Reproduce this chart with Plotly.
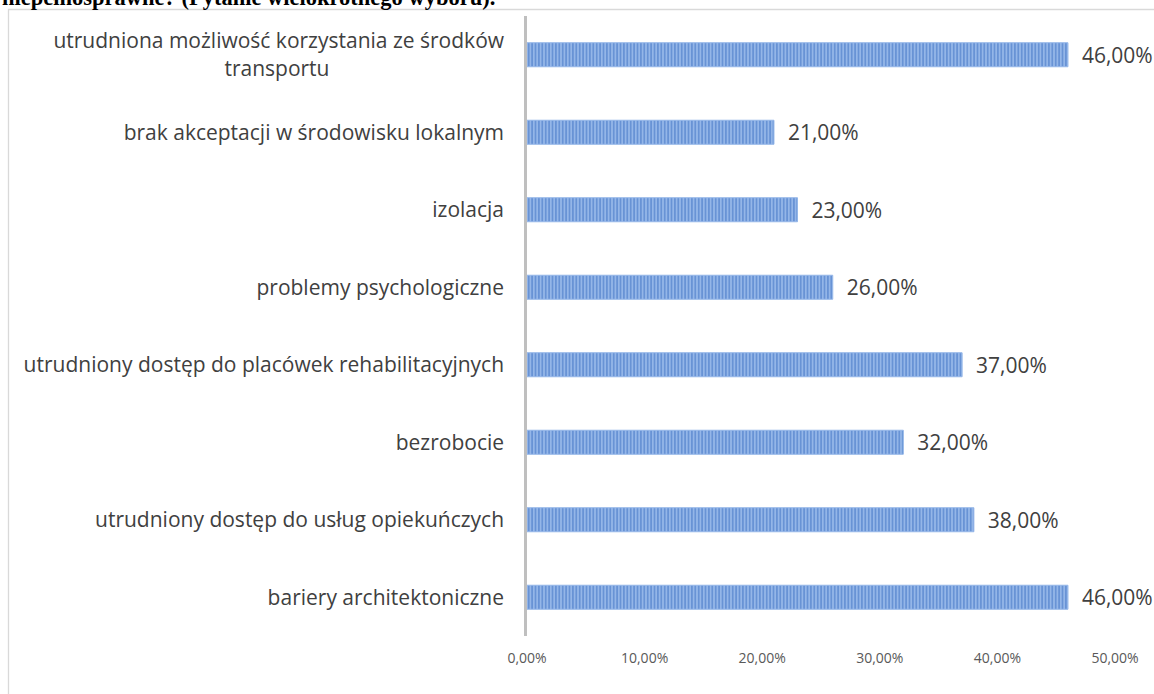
import plotly.graph_objects as go

# Data (top to bottom as displayed)
categories = [
    "utrudniona możliwość korzystania ze środków<br>transportu" + "\u00a0" * 32,
    "brak akceptacji w środowisku lokalnym",
    "izolacja",
    "problemy psychologiczne",
    "utrudniony dostęp do placówek rehabilitacyjnych",
    "bezrobocie",
    "utrudniony dostęp do usług opiekuńczych",
    "bariery architektoniczne",
]
values = [0.46, 0.21, 0.23, 0.26, 0.37, 0.32, 0.38, 0.46]
tick_values = [0.0, 0.1, 0.2, 0.3, 0.4, 0.5]
tick_labels = ["0,00%", "10,00%", "20,00%", "30,00%", "40,00%", "50,00%"]
title_text = "niepełnosprawne? (Pytanie wielokrotnego wyboru)."

W, H = 1154, 694
ML, MR, MT, MB = 527, 39, 16, 58
plot_w = W - ML - MR
plot_h = H - MT - MB

labels = ["\u00a0\u00a0" + f"{v * 100:.2f}%".replace(".", ",") for v in values]

fig = go.Figure()
fig.add_trace(go.Bar(
    y=categories,
    x=values,
    orientation="h",
    text=labels,
    textposition="outside",
    constraintext="none",
    cliponaxis=False,
    textfont=dict(family="Open Sans", size=21, color="#404040"),
    marker=dict(
        color="#94b6e8",
        line=dict(color="#94b6e8", width=1),
        pattern=dict(shape="|", fgcolor="#3c6fc2", bgcolor="#94b6e8", size=3.4, solidity=0.5),
    ),
    hoverinfo="skip",
))

def px_to_paper_x(px):
    return (px - ML) / plot_w

def px_to_paper_y(py):
    return (H - MB - py) / plot_h

# chart-area border
fig.add_shape(
    type="rect", xref="paper", yref="paper",
    x0=px_to_paper_x(8.5), x1=px_to_paper_x(W + 20),
    y0=px_to_paper_y(H + 20), y1=px_to_paper_y(9.5),
    line=dict(color="#d9d9d9", width=1.3), fillcolor="rgba(0,0,0,0)", layer="below",
)

# clipped title from surrounding document
fig.add_annotation(
    text="<b>" + title_text + "</b>",
    xref="paper", yref="paper",
    x=px_to_paper_x(0), y=px_to_paper_y(12),
    xanchor="left", yanchor="bottom", showarrow=False,
    font=dict(family="Liberation Serif", size=22.5, color="#000000"),
)

fig.update_layout(
    width=W, height=H,
    margin=dict(l=ML, r=MR, t=MT, b=MB, pad=0),
    paper_bgcolor="white", plot_bgcolor="white",
    bargap=0.69,
    showlegend=False,
    xaxis=dict(
        range=[0, 0.5],
        tickvals=tick_values, ticktext=tick_labels,
        showgrid=False, zeroline=False, showline=False,
        ticks="", ticklabelstandoff=12,
        tickfont=dict(family="Open Sans", size=14, color="#595959"),
    ),
    yaxis=dict(
        autorange="reversed",
        showgrid=False, zeroline=False,
        showline=True, linecolor="#bfbfbf", linewidth=2.5,
        ticks="", ticklabelstandoff=16,
        tickfont=dict(family="Open Sans", size=21, color="#404040"),
    ),
)

fig.write_html(
    "out.html",
    config={"displayModeBar": False},
    post_script="document.body.style.margin='0px'; document.body.style.overflow='hidden';",
)
